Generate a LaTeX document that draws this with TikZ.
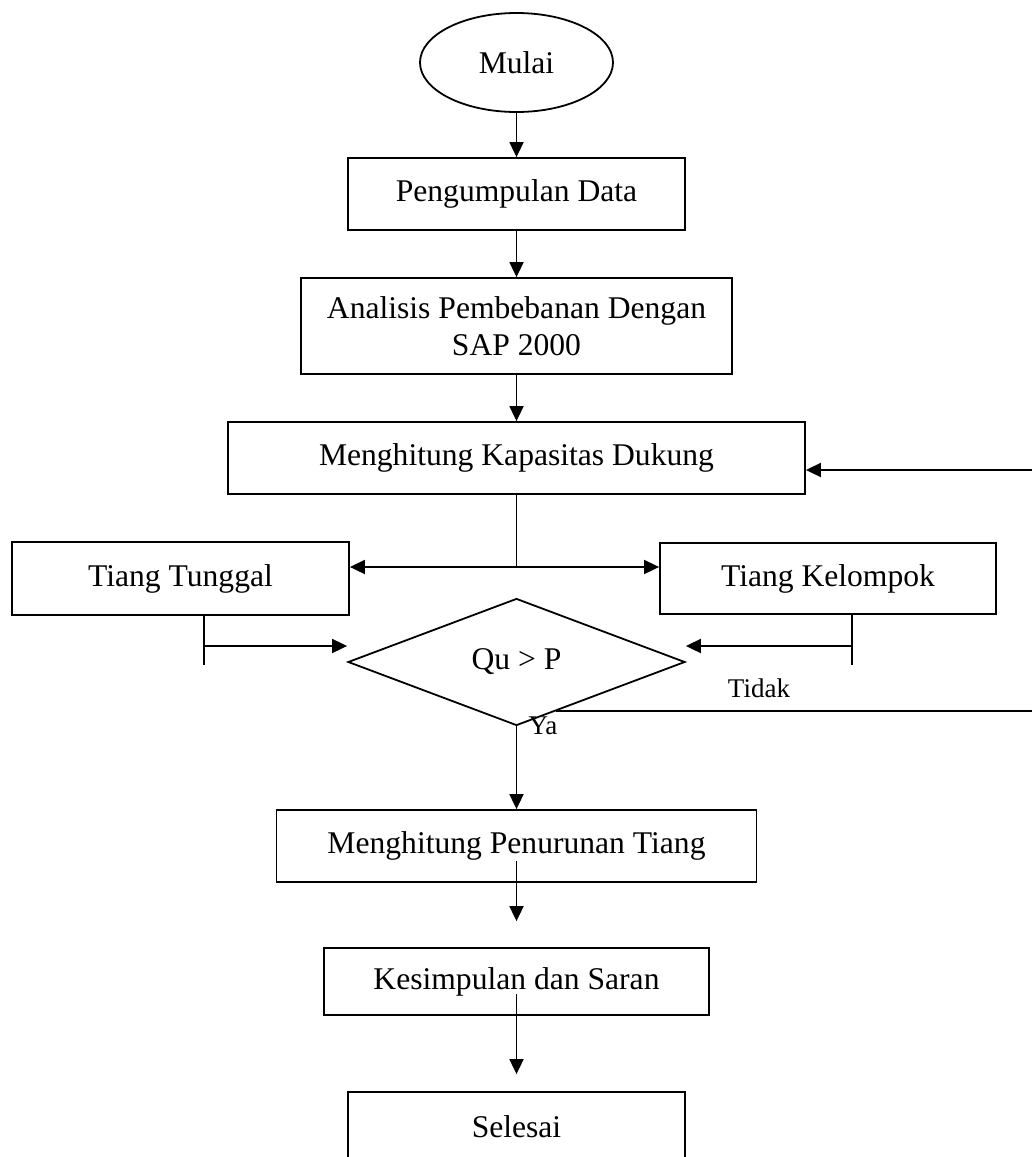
\documentclass[tikz,border=0pt]{standalone}
\usepackage{fontspec}
\setmainfont{Liberation Serif}
\usetikzlibrary{shapes.geometric,arrows.meta}

\begin{document}
\begin{tikzpicture}[x=0.5pt,y=-0.5pt,line width=0.9pt,
    flowbox/.style={draw,rectangle,inner sep=0pt,align=center,font=\fontsize{15.8pt}{18.5pt}\selectfont},
    flowend/.style={flowbox,ellipse},
    flowtest/.style={flowbox,diamond},
    flownote/.style={inner sep=0pt,font=\fontsize{13.5pt}{16pt}\selectfont},
    flowarrow/.style={-{Triangle[length=7.5pt,width=7pt]}}]
      \useasboundingbox (0,0) rectangle (1032,1157);
      \node[flowend,minimum width=96.5pt,minimum height=49.5pt] (mulai) at (516.5,62.5) {Mulai};
      \node[flowbox,minimum width=168.5pt,minimum height=36pt] (data) at (516.5,194) {Pengumpulan Data};
      \node[flowbox,minimum width=215.5pt,minimum height=48pt] (sap) at (516.5,326) {Analisis Pembebanan Dengan\\SAP 2000};
      \node[flowbox,minimum width=288.5pt,minimum height=36pt] (kapasitas) at (516.5,458) {Menghitung Kapasitas Dukung};
      \node[flowbox,minimum width=168.5pt,minimum height=36.5pt] (tunggal) at (180.5,578.5) {Tiang Tunggal};
      \node[flowbox,minimum width=168pt,minimum height=35.5pt] (kelompok) at (828,578.5) {Tiang Kelompok};
      \node[flowtest,minimum width=168.5pt,minimum height=63.5pt] (test) at (516.5,662) {Qu > P};
      \node[flowbox,minimum width=240pt,minimum height=36pt] (penurunan) at (516.5,846) {Menghitung Penurunan Tiang};
      \node[flowbox,minimum width=192.5pt,minimum height=33.5pt] (kesimpulan) at (516.5,981.5) {Kesimpulan dan Saran};
      \node[flowbox,minimum width=168.5pt,minimum height=35pt] (selesai) at (516.5,1127) {Selesai};
      \node[flownote] (tidak) at (759,688) {Tidak};
      \node[flownote] (ya) at (543,726) {Ya};
      \coordinate (split) at (516.5,567);
      \coordinate (tunggalstub) at (204,665);
      \coordinate (tunggalin) at (204,646);
      \coordinate (kelompokstub) at (852,665);
      \coordinate (kelompokin) at (852,646);
      \coordinate (tidakstart) at (556,711);
      \coordinate (loopdown) at (1036,711);
      \coordinate (loopup) at (1036,470);
      \draw[flowarrow] (mulai) -- (data);
      \draw[flowarrow] (data) -- (sap);
      \draw[flowarrow] (sap) -- (kapasitas);
      \draw (kapasitas) -- (split);
      \draw[flowarrow] (split) -- (split -| tunggal.east);
      \draw[flowarrow] (split) -- (split -| kelompok.west);
      \draw (tunggal.south -| tunggalstub) -- (tunggalstub);
      \draw[flowarrow] (tunggalin) -- (tunggalin -| test.west);
      \draw (kelompok.south -| kelompokstub) -- (kelompokstub);
      \draw[flowarrow] (kelompokin) -- (kelompokin -| test.east);
      \draw[flowarrow] (tidakstart) -- (loopdown) -- (loopup) -- (loopup -| kapasitas.east);
      \draw[flowarrow] (test) -- (penurunan);
      \draw[flowarrow,shorten <=-11pt,shorten >=13pt] (penurunan) -- (kesimpulan);
      \draw[flowarrow,shorten <=-11pt,shorten >=8.5pt] (kesimpulan) -- (selesai);
    \end{tikzpicture}
\end{document}
